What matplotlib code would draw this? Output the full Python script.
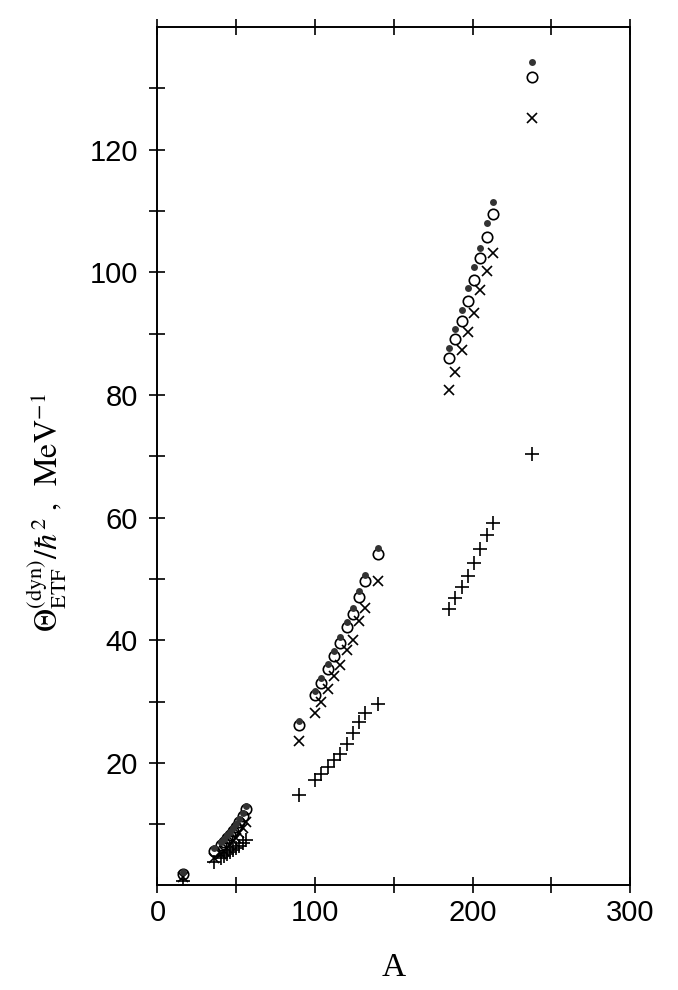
import matplotlib
matplotlib.use("Agg")
import matplotlib.pyplot as plt
from matplotlib.ticker import FixedLocator, FuncFormatter

# mass numbers of the nuclei
mass = [16,
        36, 40, 42, 44, 46, 48, 50, 52, 54, 56,
        90, 100, 104, 108, 112, 116, 120, 124, 128, 132, 140,
        185, 189, 193, 197, 201, 205, 209, 213,
        238]

# moments of inertia (MeV^-1), one list per symbol
theta_dots = [2.2,
              6.1, 7.1, 7.6, 8.2, 8.8, 9.4, 10.1, 10.8, 11.8, 13.0,
              26.9, 31.7, 33.9, 36.1, 38.3, 40.5, 43.0, 45.3, 48.1, 50.7, 55.0,
              87.7, 90.8, 93.8, 97.5, 100.9, 103.9, 108.0, 111.4,
              134.3]
theta_circles = [1.8,
                 5.6, 6.6, 7.1, 7.7, 8.3, 8.9, 9.6, 10.3, 11.3, 12.5,
                 26.2, 31.0, 33.1, 35.3, 37.5, 39.6, 42.1, 44.3, 47.0, 49.7, 54.0,
                 86.0, 89.2, 92.1, 95.4, 98.8, 102.4, 105.8, 109.5,
                 131.8]
theta_cross = [1.3,
               4.4, 5.2, 5.6, 6.1, 6.6, 7.2, 7.8, 8.5, 9.3, 10.4,
               23.6, 28.1, 30.0, 32.0, 34.1, 36.0, 38.4, 40.0, 43.1, 45.3, 49.7,
               80.8, 83.7, 87.3, 90.3, 93.3, 97.1, 100.2, 103.2,
               125.2]
theta_plus = [0.8,
              3.9, 4.5, 4.8, 5.1, 5.4, 5.8, 6.1, 6.5, 6.9, 7.4,
              14.8, 17.2, 18.2, 19.3, 20.4, 21.5, 23.0, 24.8, 26.6, 28.2, 29.6,
              45.1, 46.9, 48.7, 50.5, 52.6, 54.8, 57.2, 59.2,
              70.3]

x_ticks = [0, 50, 100, 150, 200, 250, 300]
x_labels = [0, 100, 200, 300]
y_ticks = [10, 20, 30, 40, 50, 60, 70, 80, 90, 100, 110, 120, 130]
y_labels = [20, 40, 60, 80, 100, 120]


def plotInertia(save_name="out.png"):
    plt.rcParams['mathtext.fontset'] = 'stix'
    fig = plt.figure(figsize=(6.78, 9.9), dpi=100)
    ax = fig.add_axes([0.2323, 0.1056, 0.697, 0.867])

    ax.plot(mass, theta_plus, linestyle='none', marker='+', markersize=10,
            markeredgewidth=1.2, color='black')
    ax.plot(mass, theta_cross, linestyle='none', marker='x', markersize=7.5,
            markeredgewidth=1.2, color='black')
    ax.plot(mass, theta_circles, linestyle='none', marker='o', markersize=7.5,
            markeredgewidth=1.2, markerfacecolor='none', color='black')
    ax.plot(mass, theta_dots, linestyle='none', marker='o', markersize=5,
            markeredgewidth=0, color='#333333')

    ax.set_xlim(0, 300)
    ax.set_ylim(0, 140)

    ax.xaxis.set_major_locator(FixedLocator(x_ticks))
    ax.xaxis.set_major_formatter(FuncFormatter(
        lambda v, p: f"{int(v)}" if int(v) in x_labels else ""))
    ax.yaxis.set_major_locator(FixedLocator(y_ticks))
    ax.yaxis.set_major_formatter(FuncFormatter(
        lambda v, p: f"{int(v)}" if int(v) in y_labels else ""))

    ax.tick_params(axis='x', which='major', direction='inout', length=12, width=1.2,
                   top=True, bottom=True, pad=4)
    ax.tick_params(axis='y', which='major', direction='inout', length=12, width=1.2,
                   left=True, right=False, pad=8)
    for lab in ax.get_xticklabels() + ax.get_yticklabels():
        lab.set_fontfamily(['Liberation Sans'])
        lab.set_fontsize(21)
    for s in ax.spines.values():
        s.set_linewidth(1.4)

    ax.set_xlabel("A", fontsize=24, fontfamily='Liberation Serif')
    ax.xaxis.set_label_coords(0.5, -0.078)
    ax.set_ylabel(r'$\Theta_{\rm ETF}^{\rm (dyn)}/\hbar^2\;,\;\;\mathrm{MeV}^{-1}$',
                  fontsize=23, va='center')
    ax.yaxis.set_label_coords(-0.235, 0.434)

    print(f"Saving plot to {save_name}")
    fig.savefig(save_name, dpi=100)


def main():
    plotInertia("out.png")


if __name__ == "__main__":
    main()
